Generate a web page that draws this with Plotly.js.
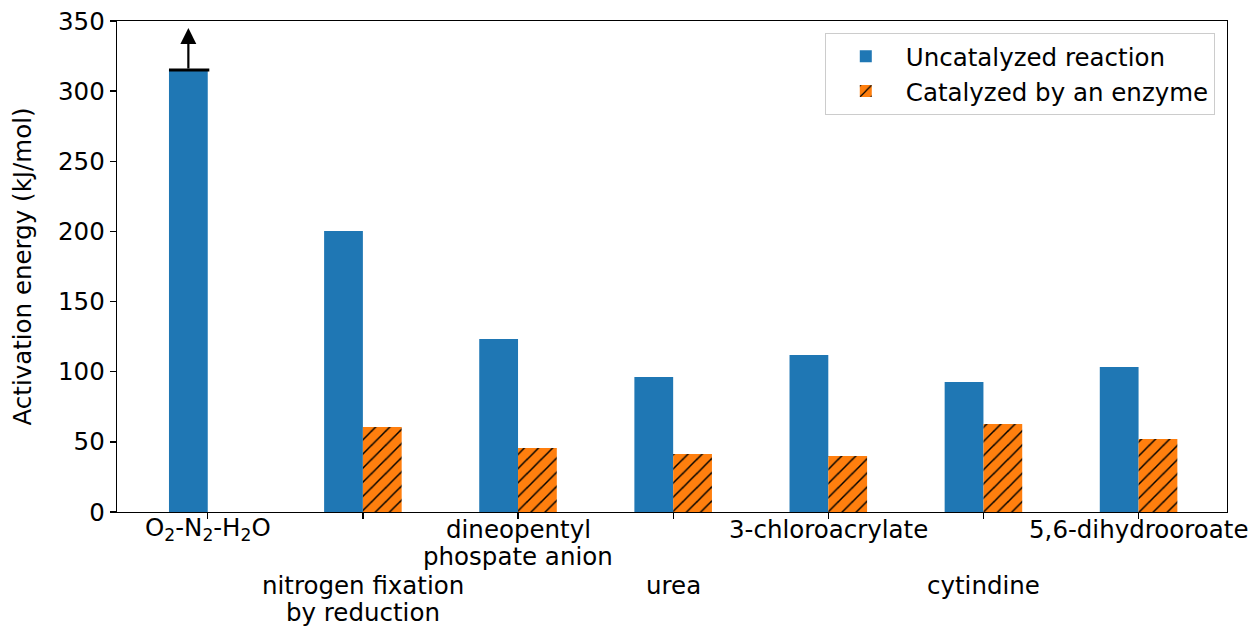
<!DOCTYPE html>
<html>
<head>
<meta charset="utf-8">
<script src="https://cdn.plot.ly/plotly-3.0.1.min.js"></script>
<style>html,body{margin:0;padding:0;background:#fff;}#chart{width:1260px;height:626px;}</style>
</head>
<body>
<div id="chart"></div>
<script>
var categories = ["O2-N2-H2O", "nitrogen fixation", "dineopentyl", "urea", "3-chloroacrylate", "cytindine", "5,6-dihydrooroate"];
var tickLabels = [
  ["O<sub>2</sub>-N<sub>2</sub>-H<sub>2</sub>O"],
  ["nitrogen fixation", "by reduction"],
  ["dineopentyl", "phospate anion"],
  ["urea"],
  ["3-chloroacrylate"],
  ["cytindine"],
  ["5,6-dihydrooroate"]
];
var uncatalyzed = [315, 200.3, 123.3, 96.2, 111.9, 92.7, 103.3];
var catalyzed = [null, 60.6, 45.6, 41.3, 39.9, 62.7, 52.0];
var seriesNames = ["Uncatalyzed reaction", "Catalyzed by an enzyme"];
var lowerBoundValue = 315;
var arrowTipValue = 345;

var font = "DejaVu Sans, sans-serif";
var idx = categories.map(function(c, i){ return i; });

var traces = [
  {type: "bar", x: idx, y: uncatalyzed, name: seriesNames[0],
   marker: {color: "#1f77b4", line: {width: 0}}},
  {type: "bar", x: idx, y: catalyzed, name: seriesNames[1],
   marker: {color: "#ff7f0e", line: {width: 0},
            pattern: {shape: "/", fgcolor: "#000000", bgcolor: "#ff7f0e", size: 10, solidity: 0.15}}}
];

var annotations = [];
// category labels, staggered in two rows
tickLabels.forEach(function(lines, i){
  var rowOffset = (i % 2 === 1) ? 56 : 0;
  lines.forEach(function(line, j){
    annotations.push({
      xref: "x", yref: "paper", x: i, y: 0,
      text: line, showarrow: false,
      xanchor: "center", yanchor: "middle",
      yshift: -(17 + rowOffset + j * 27.5),
      font: {family: font, size: 24.5, color: "#000"}
    });
  });
});
// lower-bound arrow on the first bar
annotations.push({
  xref: "x", yref: "y", axref: "x", ayref: "y",
  x: -0.125, y: arrowTipValue, ax: -0.125, ay: lowerBoundValue,
  showarrow: true, arrowhead: 2, arrowsize: 1.45, arrowwidth: 2.2, arrowcolor: "#000",
  text: ""
});

var shapes = [{
  type: "line", xref: "x", yref: "y",
  x0: -0.25, x1: 0.01, y0: lowerBoundValue, y1: lowerBoundValue,
  line: {color: "#000", width: 3}
}];

var layout = {
  width: 1260, height: 626,
  margin: {l: 117, r: 33, t: 21, b: 114},
  paper_bgcolor: "#fff", plot_bgcolor: "#fff",
  barmode: "group", bargap: 0.5, bargroupgap: 0,
  font: {family: font, size: 24.5, color: "#000"},
  showlegend: true,
  legend: {
    x: 0.989, y: 0.976, xanchor: "right", yanchor: "top",
    bgcolor: "#fff", bordercolor: "#cccccc", borderwidth: 1,
    font: {family: font, size: 24.5, color: "#000"},
    itemwidth: 70, tracegroupgap: 4
  },
  xaxis: {
    type: "linear", range: [-0.585, 6.57],
    tickmode: "array", tickvals: idx, showticklabels: false,
    ticks: "outside", ticklen: 6, tickwidth: 1.3, tickcolor: "#000",
    showline: true, linecolor: "#000", linewidth: 1.3, mirror: true,
    showgrid: false, zeroline: false
  },
  yaxis: {
    range: [0, 350], tickmode: "linear", tick0: 0, dtick: 50,
    ticks: "outside", ticklen: 6, tickwidth: 1.3, tickcolor: "#000",
    showline: true, linecolor: "#000", linewidth: 1.3, mirror: true,
    showgrid: false, zeroline: false,
    tickfont: {family: font, size: 24.5, color: "#000"},
    title: {text: "Activation energy (kJ/mol)", font: {family: font, size: 24.5, color: "#000"}, standoff: 19}
  },
  annotations: annotations,
  shapes: shapes
};

Plotly.newPlot("chart", traces, layout, {staticPlot: true, displayModeBar: false});
</script>
</body>
</html>
